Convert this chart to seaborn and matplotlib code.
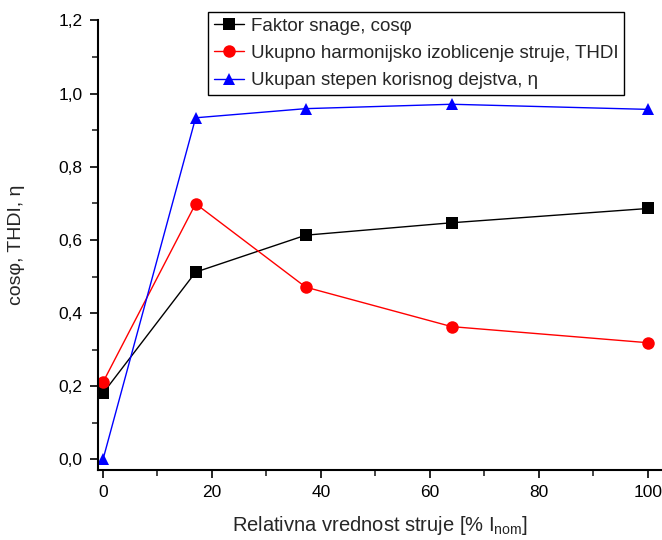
import matplotlib
matplotlib.use("Agg")
import matplotlib.pyplot as plt
import seaborn as sns
import pandas as pd
from matplotlib.ticker import MultipleLocator, FuncFormatter

x_vals = [0, 17, 37.2, 64, 100]
cos_phi = [0.181, 0.512, 0.613, 0.647, 0.686]
thdi = [0.211, 0.699, 0.471, 0.363, 0.319]
eta = [0.0, 0.934, 0.959, 0.971, 0.957]
labels = ["Faktor snage, cosφ",
          "Ukupno harmonijsko izoblicenje struje, THDI",
          "Ukupan stepen korisnog dejstva, η"]
colors = ["#000000", "#ff0000", "#0000ff"]
markers = ["s", "o", "^"]

sns.set_style("ticks")
plt.rcParams['font.family'] = ['Liberation Sans', 'DejaVu Sans']
plt.rcParams['mathtext.fontset'] = 'custom'
plt.rcParams['mathtext.rm'] = 'Liberation Sans'
plt.rcParams['mathtext.it'] = 'Liberation Sans'

df = pd.concat([
    pd.DataFrame({"x": x_vals, "y": vals, "series": lab})
    for vals, lab in zip([cos_phi, thdi, eta], labels)
])

fig = plt.figure(figsize=(6.62, 5.4), dpi=100)
ax = fig.add_axes([98/662, 1-470/540, 1-98/662, (470-20.5)/540])

sns.lineplot(data=df, x="x", y="y", hue="series", style="series",
             palette=dict(zip(labels, colors)),
             markers=dict(zip(labels, markers)), dashes=False,
             markersize=9, markeredgewidth=0, linewidth=1, ax=ax, legend=True)

ax.set_xlim(-0.92, 102.6)
ax.set_ylim(-0.029, 1.2)
ax.xaxis.set_major_locator(MultipleLocator(20))
ax.xaxis.set_minor_locator(MultipleLocator(10))
ax.yaxis.set_major_locator(MultipleLocator(0.2))
ax.yaxis.set_minor_locator(MultipleLocator(0.1))
ax.yaxis.set_major_formatter(FuncFormatter(lambda v, p: f"{v:.1f}".replace(".", ",")))
ax.tick_params(which="major", direction="out", length=6, width=1.2, labelsize=12.5,
               colors="black", pad=5)
ax.tick_params(which="minor", direction="out", length=4, width=1.2)
for s in ["top", "right"]:
    ax.spines[s].set_visible(False)
for s in ["left", "bottom"]:
    ax.spines[s].set_linewidth(1.5)
    ax.spines[s].set_color("black")

ax.set_xlabel("Relativna vrednost struje [% I$_{\\mathrm{nom}}$]", fontsize=14.5)
ax.set_ylabel("cosφ, THDI, η", fontsize=14)
ax.xaxis.set_label_coords(0.5, -44/449.5, transform=ax.transAxes)
ax.yaxis.set_label_coords(-(98-25)/564, 0.5, transform=ax.transAxes)

handles, labs = ax.get_legend_handles_labels()
leg = ax.legend(handles, labs, loc="upper left", bbox_to_anchor=(208/662, 1-12/540),
                bbox_transform=fig.transFigure, fontsize=13.5, frameon=True,
                fancybox=False, edgecolor="black", framealpha=1, borderaxespad=0,
                handlelength=1.6, borderpad=0.3, labelspacing=0.54, handletextpad=0.4)
leg.get_frame().set_linewidth(1.0)

fig.savefig("out.png", dpi=100)
